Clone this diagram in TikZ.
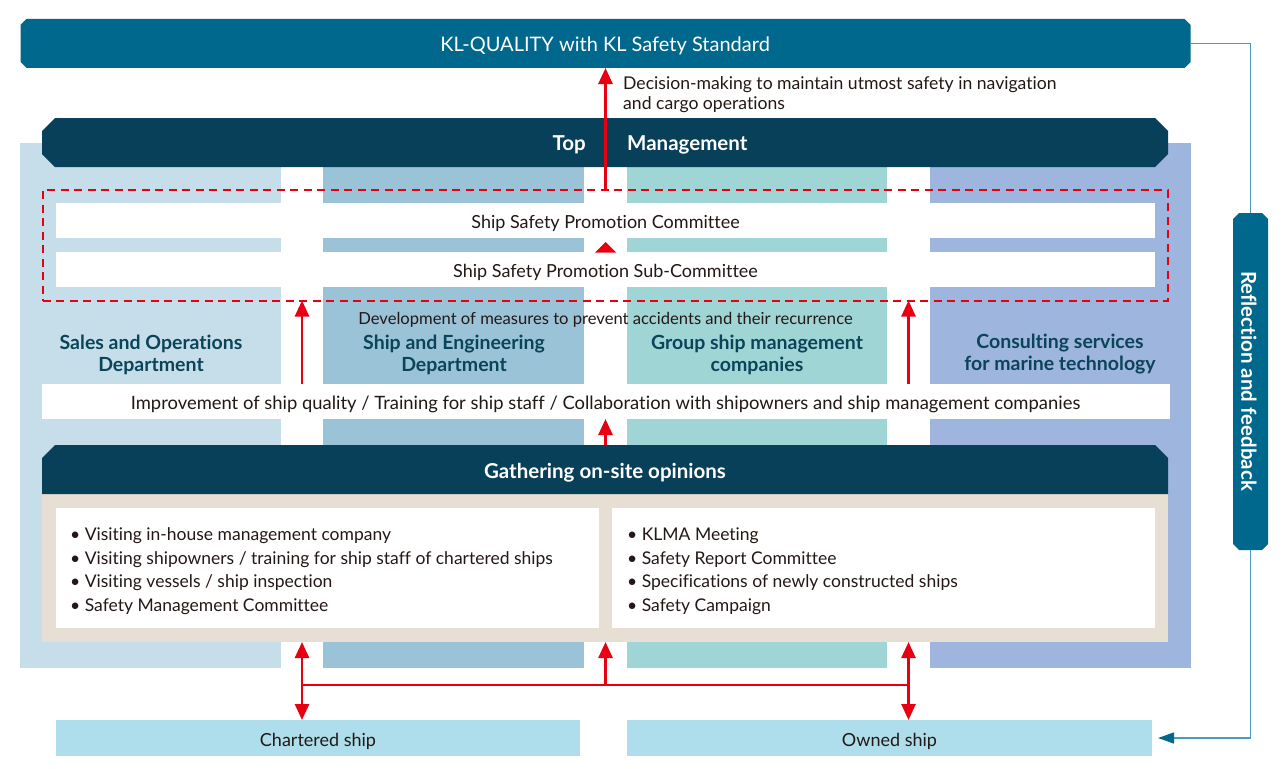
\documentclass[tikz,border=0pt]{standalone}
\usepackage{fontspec}
\setmainfont{Lato}[Ligatures=NoCommon]
\usetikzlibrary{arrows.meta}
\definecolor{banner}{HTML}{00688C}
\definecolor{darkban}{HTML}{08405A}
\definecolor{colA}{HTML}{C6DEEA}
\definecolor{colB}{HTML}{9AC3D7}
\definecolor{colC}{HTML}{A0D5D6}
\definecolor{colD}{HTML}{9EB5DE}
\definecolor{beige}{HTML}{E8DFD4}
\definecolor{shipbox}{HTML}{AEDEEB}
\definecolor{kred}{HTML}{E60012}
\definecolor{depttxt}{HTML}{0B4459}
\definecolor{txt}{HTML}{231815}
\definecolor{fbline}{HTML}{4A9CB8}
\begin{document}
\begin{tikzpicture}[x=1pt,y=-1pt,
  plain/.style={rectangle,inner sep=0pt,outer sep=0pt,draw=none},
  body/.style={font=\fontsize{18}{22}\selectfont,text=txt,inner sep=0pt},
  whitehead/.style={font=\fontsize{20.5}{24}\selectfont\bfseries,text=white,inner sep=0pt},
  dept/.style={font=\fontsize{19.5}{22}\selectfont\bfseries,text=depttxt,align=center,inner sep=0pt},
  redarrow/.style={draw=kred,line width=2.6pt,-{Triangle[width=14pt,length=16pt]}},
  redboth/.style={draw=kred,line width=2.6pt,{Triangle[width=14pt,length=16pt]}-{Triangle[width=14pt,length=16pt]}},
  redline/.style={draw=kred,line width=2.6pt},
  fb/.style={draw=fbline,line width=1.3pt},
  bullet/.style={font=\fontsize{17.5}{21}\selectfont,text=txt,inner sep=0pt,anchor=base west}
]
\useasboundingbox (0,0) rectangle (1287,768);
% gap coordinates
\coordinate (g1) at (302,0);
\coordinate (g2) at (605.5,0);
\coordinate (g3) at (908.5,0);
% columns
\node[plain,fill=colA,minimum width=261pt,minimum height=525pt] (colA) at (150.5,405.5) {};
\node[plain,fill=colB,minimum width=261pt,minimum height=525pt] (colB) at (453.5,405.5) {};
\node[plain,fill=colC,minimum width=260pt,minimum height=525pt] (colC) at (757,405.5) {};
\node[plain,fill=colD,minimum width=261pt,minimum height=525pt] (colD) at (1060.5,405.5) {};
% top banner
\node[plain,minimum width=1170pt,minimum height=49pt] (kl) at (605.5,43.5) {};
\fill[banner] ([xshift=6pt]kl.north west) -- ([xshift=-6pt]kl.north east) -- ([yshift=-6pt]kl.north east)
  -- ([yshift=6pt]kl.south east) -- ([xshift=-6pt]kl.south east) -- ([xshift=6pt]kl.south west)
  -- ([yshift=6pt]kl.south west) -- ([yshift=-6pt]kl.north west) -- cycle;
\node[font=\fontsize{20}{24}\selectfont,text=white,inner sep=0pt] (kltext) at (605,45.5) {KL-QUALITY with KL Safety Standard};
% top management
\node[plain,minimum width=1126pt,minimum height=49pt] (tm) at (605,142.5) {};
\fill[darkban] ([xshift=13pt]tm.north west) -- ([xshift=-13pt]tm.north east) -- ([yshift=-13pt]tm.north east)
  -- ([yshift=13pt]tm.south east) -- ([xshift=-13pt]tm.south east) -- ([xshift=13pt]tm.south west)
  -- ([yshift=13pt]tm.south west) -- ([yshift=-13pt]tm.north west) -- cycle;
\node[whitehead,anchor=east] (tmtop) at (586,145) {Top};
\node[whitehead,anchor=west] (tmmg) at (627,145) {Management};
% decision text
\node[anchor=west,align=left,font=\fontsize{17.6}{20}\selectfont,text=txt,inner sep=0pt] (dec) at (623,94.5) {Decision-making to maintain utmost safety in navigation\\and cargo operations};
% committees
\node[plain,draw=kred,line width=2pt,dash pattern=on 8pt off 5.5pt,minimum width=1125.5pt,minimum height=110.5pt] (dash) at (605.25,245.25) {};
\node[plain,fill=white,minimum width=1099pt,minimum height=35pt] (com) at (605.5,220.5) {};
\node[body] (comt) at (605.5,223) {Ship Safety Promotion Committee};
\node[plain,fill=white,minimum width=1099pt,minimum height=35pt] (sub) at (605.5,269.5) {};
\node[body] (subt) at (605.5,272) {Ship Safety Promotion Sub-Committee};
\fill[kred] (595,252.5) -- (616,252.5) -- (605.5,242) -- cycle;
% development text
\node[font=\fontsize{16.6}{20}\selectfont,text=txt,inner sep=0pt] (dev) at (605.5,319.5) {Development of measures to prevent accidents and their recurrence};
% departments
\node[dept] (d1) at (151,354.5) {Sales and Operations\\Department};
\node[dept] (d2) at (454,354.5) {Ship and Engineering\\Department};
\node[dept] (d3) at (757,354.5) {Group ship management\\companies};
\node[dept] (d4) at (1060,354.5) {Consulting services\\for marine technology};
% improvement bar
\node[plain,fill=white,minimum width=1128pt,minimum height=35pt] (imp) at (606,401.5) {};
\node[body,font=\fontsize{18.4}{22}\selectfont] (impt) at (605.5,404) {Improvement of ship quality / Training for ship staff / Collaboration with shipowners and ship management companies};
% gathering
\node[plain,fill=beige,minimum width=1126pt,minimum height=148pt] (bg) at (605,568) {};
\node[plain,minimum width=1126pt,minimum height=49pt] (ga) at (605,469.5) {};
\fill[darkban] ([xshift=13pt]ga.north west) -- ([xshift=-13pt]ga.north east) -- ([yshift=-13pt]ga.north east)
  -- (ga.south east) -- (ga.south west) -- ([yshift=-13pt]ga.north west) -- cycle;
\node[whitehead] (gat) at (605,472.5) {Gathering on-site opinions};
\node[plain,fill=white,minimum width=543pt,minimum height=120pt] (wl) at (327.5,568) {};
\node[plain,fill=white,minimum width=543pt,minimum height=120pt] (wr) at (883.5,568) {};
\node[bullet] (l1) at (70,540.5) {• Visiting in-house management company};
\node[bullet] (l2) at (70,564) {• Visiting shipowners / training for ship staff of chartered ships};
\node[bullet] (l3) at (70,587.5) {• Visiting vessels / ship inspection};
\node[bullet] (l4) at (70,611) {• Safety Management Committee};
\node[bullet] (r1) at (627,540.5) {• KLMA Meeting};
\node[bullet] (r2) at (627,564) {• Safety Report Committee};
\node[bullet] (r3) at (627,587.5) {• Specifications of newly constructed ships};
\node[bullet] (r4) at (627,611) {• Safety Campaign};
% ships
\node[plain,fill=shipbox,minimum width=524pt,minimum height=36pt] (ch) at (318,738) {};
\node[body] (cht) at (318,741) {Chartered ship};
\node[plain,fill=shipbox,minimum width=525pt,minimum height=36pt] (ow) at (889.5,738) {};
\node[body] (owt) at (889.5,741) {Owned ship};
% feedback box
\node[plain,minimum width=35pt,minimum height=337pt] (vb) at (1250.5,381.5) {};
\fill[banner] ([xshift=6pt]vb.north west) -- ([xshift=-6pt]vb.north east) -- ([yshift=-6pt]vb.north east)
  -- ([yshift=6pt]vb.south east) -- ([xshift=-6pt]vb.south east) -- ([xshift=6pt]vb.south west)
  -- ([yshift=6pt]vb.south west) -- ([yshift=-6pt]vb.north west) -- cycle;
\node[font=\fontsize{20.5}{24}\selectfont\bfseries,text=white,rotate=-90,inner sep=0pt] (vbt) at (1249,381) {Reflection and feedback};
% red arrows
\draw[redarrow] (dash.north -| g2) -- (kl.south -| g2);
\draw[redarrow] (imp.north -| g1) -- (dash.south -| g1);
\draw[redarrow] (imp.north -| g3) -- (dash.south -| g3);
\draw[redarrow] (ga.north -| g2) -- (imp.south -| g2);
\draw[redboth] (bg.south -| g1) -- (ch.north -| g1);
\draw[redboth] (bg.south -| g3) -- (ow.north -| g3);
\coordinate (j1) at (302,685);
\coordinate (j3) at (908.5,685);
\draw[redline] (j1) -- (j3);
\draw[redarrow] (j1 -| g2) -- (bg.south -| g2);
% feedback connectors
\draw[fb] (kl.east) -- (kl.east -| vb.north) -- (vb.north);
\draw[fb,-{Triangle[width=11pt,length=16pt,color=banner]}] (vb.south) -- (vb.south |- ow.east) -- ([xshift=6pt]ow.east);
\end{tikzpicture}
\end{document}
